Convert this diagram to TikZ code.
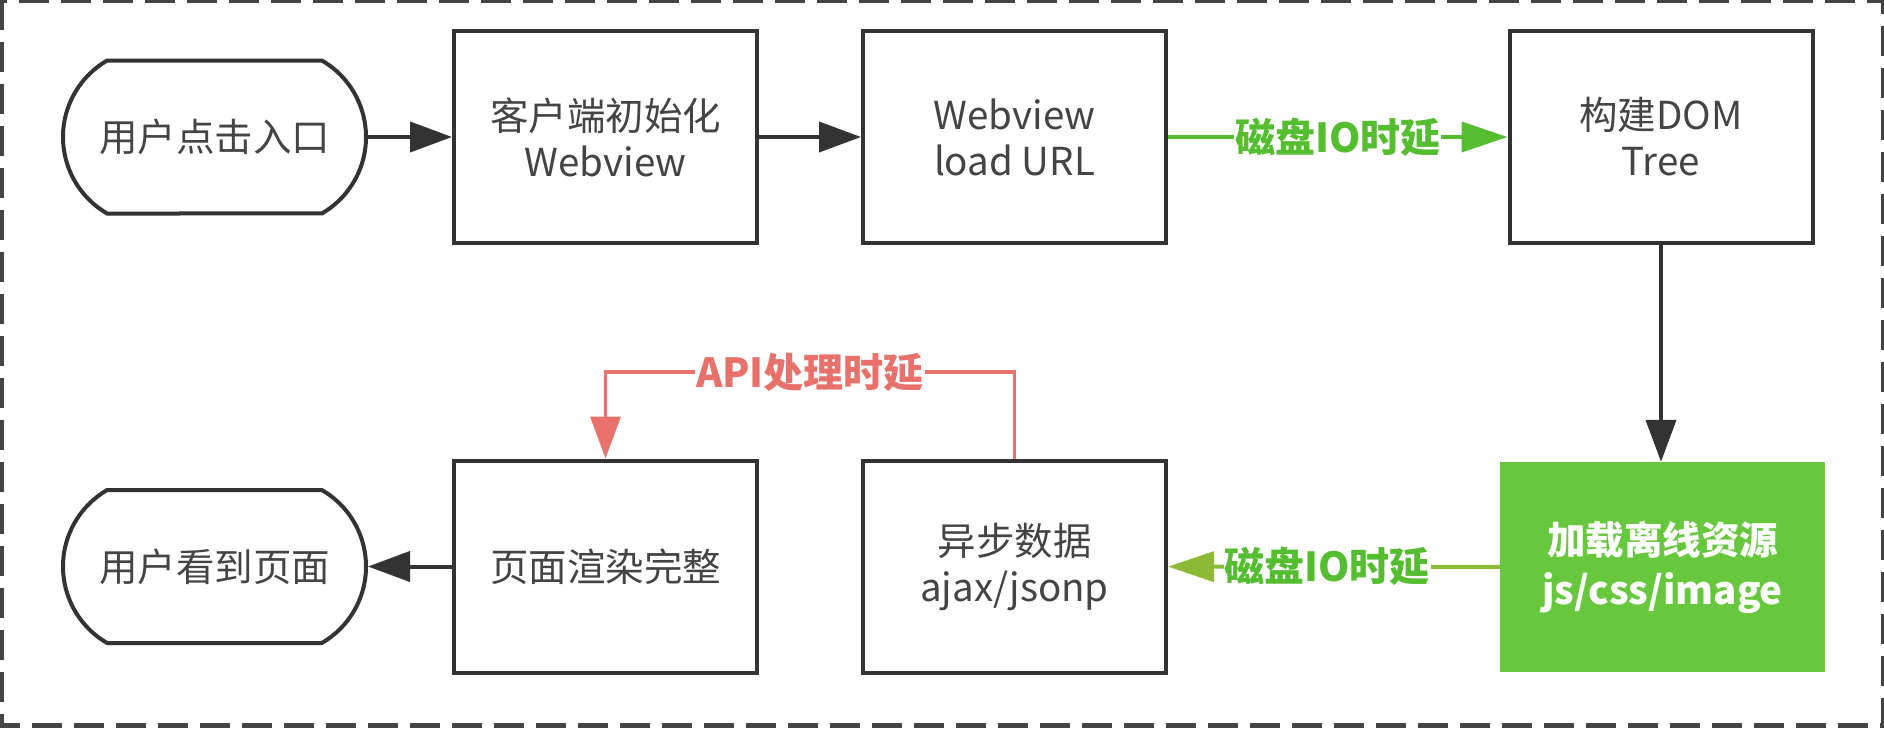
\documentclass[tikz,border=0pt]{standalone}
\usepackage{fontspec}
\setmainfont{Noto Sans CJK SC}
\usetikzlibrary{arrows.meta,shapes.misc}
\definecolor{boxline}{HTML}{333333}
\definecolor{txt}{HTML}{444444}
\definecolor{greenfill}{HTML}{67C83D}
\definecolor{greenlbl}{HTML}{55BE30}
\definecolor{olive}{HTML}{8CBA38}
\definecolor{redl}{HTML}{E8716C}
\definecolor{border}{HTML}{444444}
\tikzset{
  x=1pt, y=-1pt,
  stepbox/.style={draw=boxline, line width=4pt, rectangle, minimum width=303pt, minimum height=212pt, inner sep=0pt, align=center, text=txt, font=\fontsize{38.5}{46}\selectfont},
  term/.style={draw=boxline, line width=4pt, rounded rectangle, rounded rectangle arc length=120, minimum width=303pt, minimum height=153pt, inner sep=0pt, align=center, text=txt, font=\fontsize{38.5}{46}\selectfont},
  greenbox/.style={fill=greenfill, draw=none, rectangle, minimum width=325pt, minimum height=210pt, inner sep=0pt, align=center, text=white, font=\bfseries\fontsize{38.5}{50}\selectfont},
  conn/.style={line width=4pt, draw=boxline, -{Triangle[length=42pt,width=30pt]}},
  lbl/.style={fill=white, inner sep=1pt, font=\bfseries\fontsize{40}{44}\selectfont},
}
\begin{document}
\begin{tikzpicture}
\useasboundingbox (0,0) rectangle (1884,728);
\draw[border, line width=5pt, dash pattern=on 30pt off 12pt] (1,0) rectangle (1883,725);

\node[term] (t1) at (214.5,137) {用户点击入口};
\node[stepbox] (b2) at (605.5,137) {客户端初始化\\Webview};
\node[stepbox] (b3) at (1014.5,137) {Webview\\load URL};
\node[stepbox] (b4) at (1661,137) {构建DOM\\Tree};
\node[greenbox] (b5) at (1662.5,567) {加载离线资源\\js/css/image};
\node[stepbox] (b6) at (1014.5,566.5) {异步数据\\ajax/jsonp};
\node[stepbox] (b7) at (605.5,566.5) {页面渲染完整};
\node[term] (t2) at (214.5,566.5) {用户看到页面};

\coordinate (r1) at (1014.5,372);
\coordinate (r2) at (605.5,372);

\draw[conn] (t1) -- (b2);
\draw[conn] (b2) -- (b3);
\draw[conn, draw=greenlbl, -{Triangle[length=46pt,width=30pt]}] (b3) -- node[lbl, text=greenlbl] {磁盘IO时延} (b4);
\draw[conn] (b4.south) -- (b4.south |- b5.north);
\draw[conn, draw=olive, -{Triangle[length=46pt,width=30pt]}] (b5) -- node[lbl, text=greenlbl, pos=0.52] {磁盘IO时延} (b6);
\draw[conn, draw=redl, line width=3.5pt] (b6.north) -- (r1) -- node[lbl, text=redl] {API处理时延} (r2) -- (b7.north);
\draw[conn] (b7) -- (t2);
\end{tikzpicture}
\end{document}
